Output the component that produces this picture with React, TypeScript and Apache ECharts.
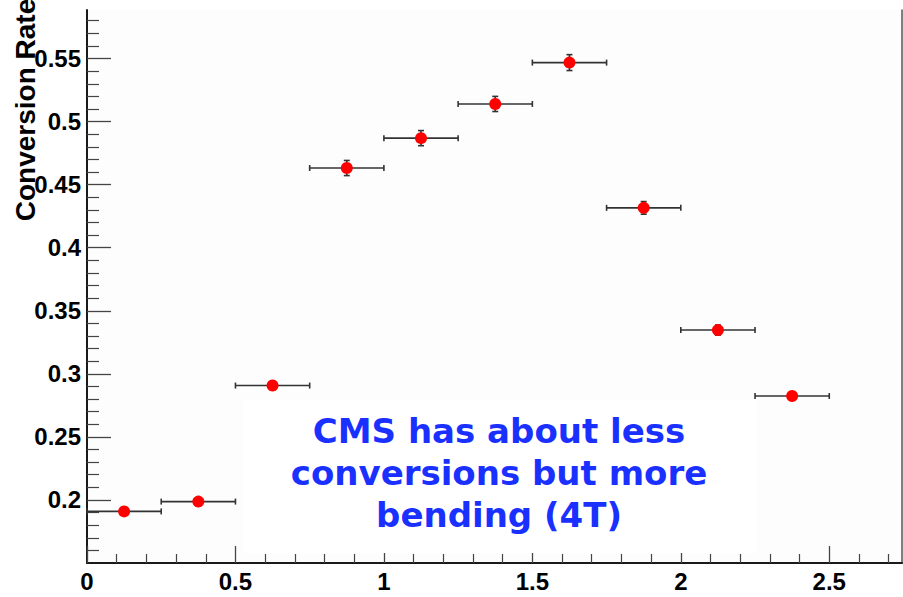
import React, { useEffect, useRef } from "react";
import * as echarts from "echarts";

// Measured conversion rate per bin (bin width 0.25)
const binCenters = [0.125, 0.375, 0.625, 0.875, 1.125, 1.375, 1.625, 1.875, 2.125, 2.375];
const binHalfWidth = 0.125;
const conversionRate = [0.1909, 0.1987, 0.2907, 0.4632, 0.4869, 0.514, 0.5468, 0.4316, 0.3347, 0.2824];
const rateError = [0.003, 0.003, 0.003, 0.006, 0.006, 0.006, 0.0063, 0.005, 0.004, 0.003];

// Axis layout
const X_MIN = 0;
const X_MAX = 2.745;
const Y_MIN = 0.15;
const Y_MAX = 0.5885;
const xMajorTicks = [0, 0.5, 1, 1.5, 2, 2.5];
const yMajorTicks = [0.2, 0.25, 0.3, 0.35, 0.4, 0.45, 0.5, 0.55];

const noteLines = ["CMS has about less", "conversions but more", "bending (4T)"];
const yTitle = "Conversion Rate";

function minorTicks(start: number, end: number, step: number, majors: number[]): number[] {
  const out: number[] = [];
  const n = Math.round((end - start) / step);
  for (let i = 0; i <= n; i++) {
    const v = Math.round((start + i * step) * 1000) / 1000;
    if (!majors.some((m) => Math.abs(m - v) < 1e-6)) out.push(v);
  }
  return out;
}

const xMinorTicks = minorTicks(0, 2.7, 0.1, xMajorTicks);
const yMinorTicks = minorTicks(0.16, 0.58, 0.01, yMajorTicks);

const AXIS_COLOR = "#1a1a1a";
const TICK_COLOR = "#444";
const LABEL_FONT = "'Liberation Sans', Arial, Helvetica, sans-serif";

export default function App() {
  const ref = useRef<HTMLDivElement>(null);

  useEffect(() => {
    if (!ref.current) return;
    const chart = echarts.init(ref.current, undefined, { renderer: "svg" });

    const labelStyle = {
      color: "#000",
      fontFamily: LABEL_FONT,
      fontWeight: "bold" as const,
      fontSize: 24,
    };

    const option: any = {
      animation: false,
      backgroundColor: "#ffffff",
      grid: {
        left: 87,
        right: 1,
        top: 10,
        bottom: 34,
        show: true,
        backgroundColor: "#fdfdfd",
        borderWidth: 0,
      },
      xAxis: [
        {
          type: "value",
          min: X_MIN,
          max: X_MAX,
          position: "bottom",
          axisLine: { show: true, onZero: false, lineStyle: { color: AXIS_COLOR, width: 2 } },
          axisTick: {
            show: true,
            inside: true,
            length: 17,
            customValues: xMajorTicks,
            lineStyle: { color: TICK_COLOR, width: 1.3 },
          },
          axisLabel: { ...labelStyle, margin: 6, customValues: xMajorTicks },
          splitLine: { show: false },
        },
        {
          type: "value",
          min: X_MIN,
          max: X_MAX,
          position: "bottom",
          axisLine: { show: false, onZero: false },
          axisTick: {
            show: true,
            inside: true,
            length: 9,
            customValues: xMinorTicks,
            lineStyle: { color: TICK_COLOR, width: 1.2 },
          },
          axisLabel: { show: false },
          splitLine: { show: false },
        },
      ],
      yAxis: [
        {
          type: "value",
          min: Y_MIN,
          max: Y_MAX,
          position: "left",
          axisLine: { show: true, onZero: false, lineStyle: { color: AXIS_COLOR, width: 2 } },
          axisTick: {
            show: true,
            inside: true,
            length: 24,
            customValues: yMajorTicks,
            lineStyle: { color: TICK_COLOR, width: 1.3 },
          },
          axisLabel: { ...labelStyle, margin: 6, customValues: yMajorTicks },
          splitLine: { show: false },
        },
        {
          type: "value",
          min: Y_MIN,
          max: Y_MAX,
          position: "left",
          axisLine: { show: false, onZero: false },
          axisTick: {
            show: true,
            inside: true,
            length: 12,
            customValues: yMinorTicks,
            lineStyle: { color: TICK_COLOR, width: 1.2 },
          },
          axisLabel: { show: false },
          splitLine: { show: false },
        },
        {
          type: "value",
          min: Y_MIN,
          max: Y_MAX,
          position: "right",
          axisLine: { show: true, onZero: false, lineStyle: { color: "#555", width: 1.5 } },
          axisTick: { show: false },
          axisLabel: { show: false },
          splitLine: { show: false },
        },
      ],
      graphic: [
        {
          type: "rect",
          shape: { x: 243, y: 400, width: 514, height: 153 },
          style: { fill: "#ffffff" },
          z: 1,
          silent: true,
        },
        {
          type: "text",
          x: 499,
          y: 473,
          z: 10,
          style: {
            text: noteLines.join("\n"),
            fill: "#1a30ff",
            font: "bold 34px 'Comic Sans MS', 'DejaVu Sans', sans-serif",
            lineHeight: 42,
            align: "center",
            verticalAlign: "middle",
          },
        },
        {
          type: "text",
          x: 25,
          y: 110,
          rotation: Math.PI / 2,
          z: 10,
          style: {
            text: yTitle,
            fill: "#000",
            font: `bold 28px ${LABEL_FONT}`,
            align: "center",
            verticalAlign: "middle",
          },
        },
      ],
      series: [
        {
          type: "custom",
          xAxisIndex: 0,
          yAxisIndex: 0,
          z: 3,
          clip: false,
          data: binCenters.map((x, i) => [x, conversionRate[i], rateError[i]]),
          encode: { x: 0, y: 1 },
          renderItem: (_params: any, api: any) => {
            const x = api.value(0);
            const y = api.value(1);
            const e = api.value(2);
            const l = api.coord([x - binHalfWidth, y]);
            const r = api.coord([x + binHalfWidth, y]);
            const t = api.coord([x, y + e]);
            const b = api.coord([x, y - e]);
            const cap = 3;
            const style = { stroke: "#333", lineWidth: 1.6 };
            const seg = (x1: number, y1: number, x2: number, y2: number) => ({
              type: "line",
              shape: { x1, y1, x2, y2 },
              style,
            });
            return {
              type: "group",
              children: [
                seg(l[0], l[1], r[0], r[1]),
                seg(l[0], l[1] - cap, l[0], l[1] + cap),
                seg(r[0], r[1] - cap, r[0], r[1] + cap),
                seg(t[0], t[1], b[0], b[1]),
                seg(t[0] - cap, t[1], t[0] + cap, t[1]),
                seg(b[0] - cap, b[1], b[0] + cap, b[1]),
              ],
            };
          },
        },
        {
          type: "scatter",
          xAxisIndex: 0,
          yAxisIndex: 0,
          z: 5,
          symbol: "circle",
          symbolSize: 12,
          itemStyle: { color: "#ff0000", opacity: 1 },
          data: binCenters.map((x, i) => [x, conversionRate[i]]),
        },
      ],
    };

    chart.setOption(option);
    return () => chart.dispose();
  }, []);

  return (
    <div
      ref={ref}
      style={{ position: "absolute", left: 0, top: 0, width: 903, height: 597 }}
    />
  );
}
